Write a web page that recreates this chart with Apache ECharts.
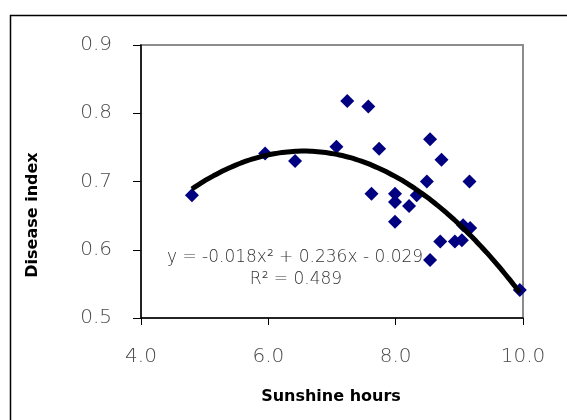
<!DOCTYPE html>
<html>
<head>
<meta charset="utf-8">
<script src="https://cdn.jsdelivr.net/npm/echarts@6/dist/echarts.min.js"></script>
<style>
  html, body { margin: 0; padding: 0; background: #fff; }
  #chart { width: 567px; height: 420px; }
</style>
</head>
<body>
<div id="chart"></div>
<script>
// sunshine hours (x) and disease index (y)
var sunshine = [4.80, 5.95, 6.42, 7.07, 7.24, 7.57, 7.74, 7.62, 7.99, 7.99, 7.99, 8.21, 8.33,
                8.49, 8.54, 8.72, 9.16, 8.54, 8.70, 8.93, 9.04, 9.06, 9.17, 9.95];
var disease  = [0.680, 0.741, 0.730, 0.751, 0.818, 0.810, 0.748, 0.682, 0.682, 0.670, 0.641, 0.664, 0.680,
                0.700, 0.762, 0.732, 0.700, 0.585, 0.612, 0.612, 0.614, 0.636, 0.632, 0.541];
// polynomial trendline as printed on the chart
var trendCoef = [-0.018, 0.236, -0.029];
var trendText = ['y = -0.018x² + 0.236x - 0.029', 'R² = 0.489'];
var xTicks = [4, 6, 8, 10];
var yTicks = [0.5, 0.6, 0.7, 0.8, 0.9];

var chart = echarts.init(document.getElementById('chart'));

var points = [];
for (var i = 0; i < sunshine.length; i++) {
  points.push([sunshine[i], disease[i]]);
}

var xLo = Math.min.apply(null, sunshine), xHi = Math.max.apply(null, sunshine);
var trend = [];
for (var k = 0; k <= 60; k++) {
  var x = xLo + (xHi - xLo) * k / 60;
  trend.push([x, trendCoef[0] * x * x + trendCoef[1] * x + trendCoef[2]]);
}

var thinFont = 'DejaVu Sans';

chart.setOption({
  animation: false,
  grid: {
    left: 141, top: 45, right: 44, bottom: 102,
    show: true,
    borderColor: '#8c8c8c',
    borderWidth: 2
  },
  xAxis: {
    type: 'value',
    min: xTicks[0], max: xTicks[xTicks.length - 1], interval: 2,
    axisLine: { lineStyle: { color: '#000', width: 1.5 } },
    axisTick: { show: true, length: 7, lineStyle: { color: '#000' } },
    axisLabel: {
      margin: 29, color: '#4a4a4a', fontSize: 20, fontFamily: thinFont, fontWeight: 200,
      formatter: function (v) { return v.toFixed(1); }
    },
    splitLine: { show: false }
  },
  yAxis: {
    type: 'value',
    min: yTicks[0], max: yTicks[yTicks.length - 1], interval: 0.1,
    axisLine: { show: true, lineStyle: { color: '#000', width: 1.5 } },
    axisTick: { show: true, length: 8, lineStyle: { color: '#000' } },
    axisLabel: {
      margin: 29, color: '#4a4a4a', fontSize: 20, fontFamily: thinFont, fontWeight: 200,
      formatter: function (v) { return v.toFixed(1); }
    },
    splitLine: { show: false }
  },
  graphic: [
    {
      type: 'rect', left: 8, top: 13, silent: true,
      shape: { width: 620, height: 480 },
      style: { fill: 'none', stroke: '#000', lineWidth: 1.5 }
    },
    {
      type: 'text', x: 33, y: 215, rotation: Math.PI / 2,
      style: {
        text: 'Disease index', fill: '#000', font: 'bold 16px "DejaVu Sans"',
        textAlign: 'center', textVerticalAlign: 'middle'
      }
    },
    {
      type: 'text', x: 331, y: 397,
      style: {
        text: 'Sunshine hours', fill: '#000', font: 'bold 16px "DejaVu Sans"',
        textAlign: 'center', textVerticalAlign: 'middle'
      }
    },
    {
      type: 'text', x: 295, y: 258, z: 10,
      style: {
        text: trendText[0], fill: '#333', font: '200 17px "DejaVu Sans"',
        textAlign: 'center', textVerticalAlign: 'middle'
      }
    },
    {
      type: 'text', x: 296, y: 280, z: 10,
      style: {
        text: trendText[1], fill: '#333', font: '200 17px "DejaVu Sans"',
        textAlign: 'center', textVerticalAlign: 'middle'
      }
    }
  ],
  series: [
    {
      type: 'scatter',
      data: points,
      symbol: 'diamond',
      symbolSize: 14,
      itemStyle: { color: '#000080', opacity: 1 },
      z: 2
    },
    {
      type: 'line',
      data: trend,
      showSymbol: false,
      smooth: true,
      lineStyle: { color: '#000', width: 5 },
      z: 3
    }
  ]
});
</script>
</body>
</html>
